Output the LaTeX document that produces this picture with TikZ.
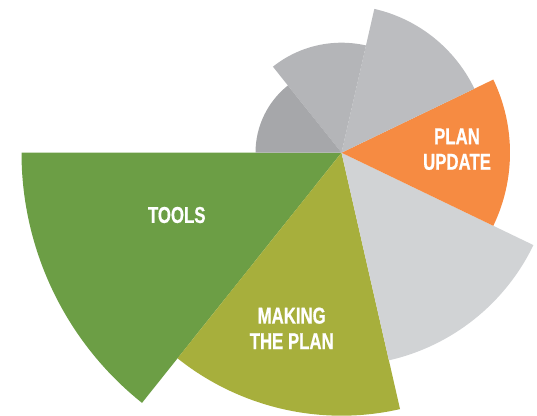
\documentclass[tikz,border=0pt]{standalone}
\usepackage{fontspec}
\setsansfont{Liberation Sans}[FakeStretch=0.73, FakeBold=0.6]
\usepackage{tikz}

\definecolor{toolsgreen}{HTML}{6C9E45}
\definecolor{makingolive}{HTML}{A7AF3C}
\definecolor{lightslice}{HTML}{D1D3D5}
\definecolor{updateorange}{HTML}{F68B42}
\definecolor{upperslice}{HTML}{BCBDC0}
\definecolor{middleslice}{HTML}{B4B5B8}
\definecolor{darkslice}{HTML}{A6A7AA}

\begin{document}
\begin{tikzpicture}
 [ x=1pt, y=1pt
 , slice/.style={draw=none}
 , slicetext/.style={text=white, align=center,
     font=\sffamily\bfseries\fontsize{23}{25.5}\selectfont}
 ]
  \useasboundingbox (0,0) rectangle (537,415);
  \coordinate (centre) at (341.5,262.3);
  % seven equal slices, radius grows clockwise
  \foreach \colour/\from/\radius in
    { toolsgreen/180/320
    , makingolive/231.43/263
    , lightslice/282.86/213
    , updateorange/334.29/168.5
    , upperslice/25.71/147.5
    , middleslice/77.14/110
    , darkslice/128.57/86
    }
  {
    \fill[slice, \colour] (centre) -- ++(\from:\radius)
      arc[start angle=\from, delta angle=51.43, radius=\radius] -- cycle;
  }
  \node[slicetext] (tools) at (176.7,200) {TOOLS};
  \node[slicetext] (making) at (291.7,86.7) {MAKING\\THE PLAN};
  \node[slicetext] (update) at (457,265.8) {PLAN\\UPDATE};
\end{tikzpicture}
\end{document}
